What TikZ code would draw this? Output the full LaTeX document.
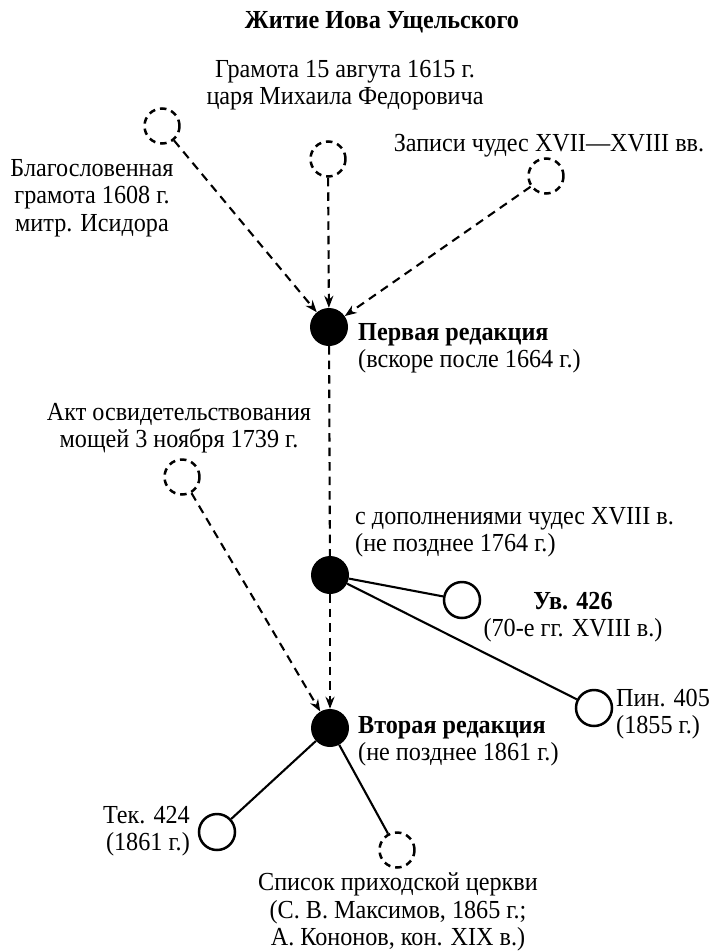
\documentclass[tikz,border=0pt]{standalone}
\usepackage{fontspec}
\setmainfont[FakeStretch=0.93]{Liberation Serif}
\usetikzlibrary{arrows.meta}
\begin{document}
\begin{tikzpicture}[x=1pt,y=-1pt,
  every node/.style={font=\fontsize{26}{27.5}\selectfont},
  dcirc/.style={circle,draw,dash pattern=on 6.5pt off 5pt,line width=2.5pt,minimum size=35pt,inner sep=0pt},
  ocirc/.style={circle,draw,line width=2.5pt,minimum size=36pt,inner sep=0pt},
  blob/.style={circle,fill=black,minimum size=38pt,inner sep=0pt},
  darr/.style={dash pattern=on 8.5pt off 6pt,line width=2.1pt,-{Stealth[length=12pt,width=9pt]}},
  dln/.style={dash pattern=on 8.5pt off 6pt,line width=2.1pt},
  sline/.style={line width=2.1pt},
  lbl/.style={align=center,inner sep=0pt},
  lbll/.style={align=left,inner sep=0pt,anchor=west},
  lblr/.style={align=right,inner sep=0pt,anchor=east},
]
\useasboundingbox (0,0) rectangle (721,951);
% source nodes
\node[dcirc] (A) at (162,126) {};
\node[dcirc] (B) at (328,159) {};
\node[dcirc] (C) at (546,176) {};
\node[dcirc] (D) at (182,477) {};
\node[blob] (R1) at (329,327) {};
\node[blob] (M) at (330,575) {};
\node[blob] (R2) at (330,728) {};
\node[ocirc] (U) at (462,600) {};
\node[ocirc] (P) at (594,708) {};
\node[ocirc] (T) at (217,832) {};
\node[dcirc] (S) at (397,850) {};
% labels
\node[lbl,font=\fontsize{26}{27.5}\selectfont\bfseries] (title) at (382,22) {Житие Иова Ущельского};
\node[lbl] (lB) at (345,85) {Грамота 15 авгута 1615 г.\\царя Михаила Федоровича};
\node[lbl] (lC) at (549,146) {Записи чудес XVII—XVIII вв.};
\node[lbl] (lA) at (92,198) {Благословенная\\грамота 1608 г.\\митр. Исидора};
\node[lbll] (lR1) at (358,348) {\textbf{Первая редакция}\\(вскоре после 1664 г.)};
\node[lbl] (lD) at (179,428) {Акт освидетельствования\\мощей 3 ноября 1739 г.};
\node[lbll] (lM) at (355,532) {с дополнениями чудес XVIII в.\\(не позднее 1764 г.)};
\node[lbl] (lU) at (573,617) {\textbf{Ув. 426}\\(70-е гг. XVIII в.)};
\node[lbll] (lP) at (616,714) {Пин. 405\\(1855 г.)};
\node[lbll] (lR2) at (358,741) {\textbf{Вторая редакция}\\(не позднее 1861 г.)};
\node[lblr] (lT) at (190,831) {Тек. 424\\(1861 г.)};
\node[lbl] (lS) at (398,912) {Список приходской церкви\\(С. В. Максимов, 1865 г.;\\А. Кононов, кон. XIX в.)};
% connectors
\draw[darr] (A) -- (R1);
\draw[darr] (B) -- (R1);
\draw[darr] (C) -- (R1);
\draw[dln] (R1) -- (M);
\draw[darr] (M) -- (R2);
\draw[darr] (D) -- (R2);
\draw[sline] (M) -- (U);
\draw[sline] (M) -- (P);
\draw[sline] (R2) -- (T);
\draw[sline] (R2) -- (S);
\end{tikzpicture}
\end{document}
